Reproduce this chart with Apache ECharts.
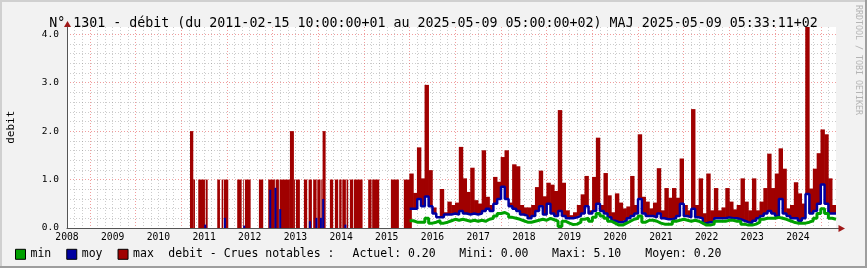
<!DOCTYPE html>
<html><head><meta charset="utf-8">
<script src="https://cdn.jsdelivr.net/npm/echarts/dist/echarts.min.js"></script>
<style>html,body{margin:0;padding:0;background:#f2f2f2}#c{width:867px;height:268px}</style>
</head><body><div id="c"></div>
<script>
const TITLE = 'N° 1301 - débit (du 2011-02-15 10:00:00+01 au 2025-05-09 05:00:00+02) MAJ 2025-05-09 05:33:11+02';
const Y_NAME = 'debit';
const LEGEND_NAMES = ['min', 'moy', 'max'];
const LEGEND_TEXTS = ['debit - Crues notables :', 'Actuel: 0.20', 'Mini: 0.00', 'Maxi: 5.10', 'Moyen: 0.20'];
const X_MIN = 2008, X_MAX = 2024 + 10 / 12;
const Y_MAX = 4.15;

// early period: max as step breakpoints [year, value]
const maxEarly = [
  [2010.692, 2.0], [2010.764, 1.0], [2010.801, 0],
  [2010.873, 1.0], [2011.020, 0], [2011.035, 1.0], [2011.079, 0],
  [2011.289, 1.0], [2011.348, 0],
  [2011.385, 1.0], [2011.420, 0], [2011.435, 1.0], [2011.530, 0],
  [2011.726, 1.0], [2011.823, 0],
  [2011.858, 1.0], [2011.873, 0], [2011.895, 1.0], [2012.020, 0],
  [2012.201, 1.0], [2012.295, 0],
  [2012.405, 1.0], [2012.551, 0], [2012.567, 1.0], [2012.639, 0], [2012.654, 1.0], [2012.880, 2.0], [2012.967, 1.0], [2012.989, 0],
  [2013.011, 1.0], [2013.098, 0],
  [2013.186, 1.0], [2013.258, 0],
  [2013.289, 1.0], [2013.361, 0],
  [2013.389, 1.0], [2013.464, 0], [2013.479, 1.0], [2013.551, 0], [2013.567, 1.0], [2013.595, 2.0], [2013.661, 0],
  [2013.755, 1.0], [2013.827, 0],
  [2013.864, 1.0], [2013.937, 0],
  [2013.958, 1.0], [2014.011, 0], [2014.026, 1.0], [2014.105, 0], [2014.120, 1.0], [2014.155, 0],
  [2014.193, 1.0], [2014.265, 0],
  [2014.280, 1.0], [2014.470, 0],
  [2014.593, 1.0], [2014.667, 0],
  [2014.680, 1.0], [2014.834, 0],
  [2015.090, 1.0], [2015.265, 0],
  [2015.374, 1.0], [2015.549, 0]
];
// early period: isolated moy spikes [year, value]
const moyEarly = [
  [2011.026, 0.07], [2011.457, 0.21], [2011.880, 0.05], [2012.449, 0.79], [2012.563, 0.83],
  [2012.667, 0.39], [2013.317, 0.14], [2013.460, 0.21], [2013.558, 0.21], [2013.608, 0.60], [2014.094, 0.07]
];

// late period: monthly samples starting July 2015
const LATE_START = 2015.5, LATE_STEP = 1 / 12;
const maxLate = [
  1.1, 0.7, 1.64, 1.0, 2.93, 1.17, 0.4, 0.2, 0.78, 0.3, 0.52, 0.45, 0.5, 1.65, 1.0, 0.72,
  1.22, 0.55, 0.48, 1.58, 0.62, 0.45, 1.03, 0.93, 1.44, 1.58, 0.5, 1.29, 1.25, 0.45, 0.4,
  0.4, 0.45, 0.82, 1.16, 0.63, 0.91, 0.87, 0.74, 2.41, 0.91, 0.34, 0.24, 0.3, 0.45, 0.67, 1.05,
  0.34, 1.03, 1.84, 0.45, 1.11, 0.65, 0.3, 0.69, 0.5, 0.38, 0.42, 1.05, 0.45, 1.91, 0.62, 0.52, 0.38,
  0.5, 1.21, 0.34, 0.8, 0.6, 0.8, 0.6, 1.41, 0.45, 0.34, 2.43, 0.45, 1.0, 0.28, 1.1, 0.34, 0.8,
  0.34, 0.4, 0.8, 0.52, 0.36, 0.45, 1.0, 0.52, 0.34, 1.0, 0.34, 0.52, 0.8, 1.51, 0.8, 1.1,
  1.62, 1.2, 0.38, 0.45, 0.92, 0.69, 0.48, 5.1, 0.79, 1.2, 1.52, 2.01, 1.91, 1.0, 0.45
];
const moyLate = [
  0.4, 0.4, 0.6, 0.45, 0.65, 0.45, 0.3, 0.22, 0.22, 0.28, 0.28, 0.3, 0.28, 0.35, 0.3, 0.28,
  0.3, 0.28, 0.3, 0.35, 0.4, 0.35, 0.5, 0.6, 0.85, 0.6, 0.45, 0.4, 0.35, 0.28, 0.25,
  0.2, 0.25, 0.35, 0.45, 0.28, 0.5, 0.3, 0.25, 0.35, 0.25, 0.2, 0.2, 0.22, 0.25, 0.3, 0.45,
  0.3, 0.35, 0.5, 0.35, 0.3, 0.22, 0.15, 0.12, 0.12, 0.15, 0.2, 0.25, 0.3, 0.6, 0.3, 0.25, 0.25,
  0.22, 0.3, 0.2, 0.18, 0.18, 0.2, 0.25, 0.5, 0.25, 0.22, 0.4, 0.22, 0.2, 0.1, 0.12, 0.12, 0.2,
  0.2, 0.2, 0.22, 0.2, 0.2, 0.18, 0.15, 0.12, 0.1, 0.15, 0.2, 0.25, 0.3, 0.35, 0.3, 0.25,
  0.6, 0.3, 0.25, 0.2, 0.2, 0.15, 0.2, 0.7, 0.3, 0.35, 0.5, 0.9, 0.5, 0.3, 0.3
];
const minLate = [
  0.15, 0.12, 0.12, 0.12, 0.2, 0.1, 0.12, 0.15, 0.1, 0.12, 0.15, 0.18, 0.16, 0.18, 0.16, 0.14,
  0.16, 0.14, 0.16, 0.14, 0.18, 0.2, 0.25, 0.3, 0.32, 0.28, 0.22, 0.2, 0.18, 0.15, 0.12,
  0.12, 0.14, 0.16, 0.18, 0.16, 0.2, 0.17, 0.14, 0.03, 0.14, 0.1, 0.07, 0.08, 0.12, 0.18, 0.2,
  0.14, 0.22, 0.3, 0.25, 0.2, 0.14, 0.1, 0.06, 0.06, 0.1, 0.14, 0.18, 0.2, 0.25, 0.12, 0.16, 0.16,
  0.14, 0.1, 0.08, 0.08, 0.08, 0.14, 0.16, 0.18, 0.16, 0.14, 0.16, 0.14, 0.1, 0.06, 0.06, 0.08, 0.14,
  0.14, 0.14, 0.16, 0.16, 0.14, 0.14, 0.08, 0.06, 0.06, 0.08, 0.12, 0.18, 0.2, 0.2, 0.2, 0.22,
  0.2, 0.18, 0.15, 0.12, 0.1, 0.1, 0.1, 0.12, 0.15, 0.2, 0.3, 0.4, 0.3, 0.2, 0.18
];

const RED = '#a00000', BLUE = '#0000a0', GREEN = '#00a000';
const MONO = 'DejaVu Sans Mono';
const MGRID = 'rgba(225,60,60,0.5)', GRID = 'rgba(120,120,120,0.38)';

const lateX = maxLate.map((_, i) => LATE_START + i * LATE_STEP);
const lateEnd = LATE_START + maxLate.length * LATE_STEP;
function pairs(vals) {
  const d = vals.map((v, i) => [lateX[i], v]);
  d.push([lateEnd, vals[vals.length - 1]]);
  return d;
}
// red segments [x0, x1, low, high]
const redEarlySeg = [];
for (let i = 0; i < maxEarly.length - 1; i++) {
  if (maxEarly[i][1] > 0) redEarlySeg.push([maxEarly[i][0], maxEarly[i + 1][0], 0, maxEarly[i][1]]);
}
const redLateSeg = maxLate.map((v, i) => [lateX[i], lateX[i] + LATE_STEP, moyLate[i], v]);

function rectRenderer(padX, padTop) {
  return function (params, api) {
    const p0 = api.coord([api.value(0), api.value(3)]);
    const p1 = api.coord([api.value(1), api.value(2)]);
    const r = echarts.graphic.clipRectByRect({
      x: p0[0] - padX, y: p0[1] - padTop,
      width: p1[0] - p0[0] + 2 * padX, height: p1[1] - p0[1] + padTop
    }, {x: params.coordSys.x, y: params.coordSys.y, width: params.coordSys.width, height: params.coordSys.height});
    return r && {type: 'rect', shape: r, style: {fill: RED}};
  };
}

const chart = echarts.init(document.getElementById('c'), null, {renderer: 'canvas'});
chart.setOption({
  animation: false,
  backgroundColor: '#f2f2f2',
  title: {
    text: TITLE, left: 'center', top: 12,
    textStyle: {fontFamily: MONO, fontSize: 13.3, fontWeight: 'normal', color: '#000', lineHeight: 14}
  },
  legend: {
    data: LEGEND_NAMES, left: 15, top: 247.3, padding: 0, itemGap: 15,
    itemWidth: 10, itemHeight: 10, icon: 'rect', selectedMode: false,
    itemStyle: {borderColor: '#000', borderWidth: 1},
    textStyle: {fontFamily: MONO, fontSize: 11.5, color: '#000', lineHeight: 14}
  },
  grid: {left: 67, right: 31, top: 27, bottom: 40, show: true, backgroundColor: '#fff', borderWidth: 0, containLabel: false, outerBoundsMode: 'none'},
  xAxis: {
    type: 'value', min: X_MIN, max: X_MAX, interval: 1 / 6,
    axisLine: {show: true, lineStyle: {color: '#555', width: 1}},
    axisTick: {show: false},
    axisLabel: {
      margin: 4, fontFamily: MONO, fontSize: 9.7, color: '#000', showMaxLabel: false, hideOverlap: false,
      formatter: v => Math.abs(v - Math.round(v)) < 1e-6 ? String(Math.round(v)) : ''
    },
    splitLine: {show: true, showMaxLine: false, lineStyle: {color: [GRID, GRID, GRID, MGRID, GRID, GRID], type: [1, 2], width: 1}}
  },
  yAxis: {
    type: 'value', min: 0, max: Y_MAX, interval: 0.2,
    axisLine: {show: true, lineStyle: {color: '#555', width: 1}},
    axisTick: {show: false},
    axisLabel: {
      margin: 8, fontFamily: MONO, fontSize: 9.5, color: '#000', showMaxLabel: false,
      formatter: v => Math.abs(v - Math.round(v)) < 1e-6 ? Math.round(v).toFixed(1) : ''
    },
    splitLine: {show: true, showMaxLine: false, lineStyle: {color: [MGRID, GRID, GRID, GRID, GRID], type: [1, 2], width: 1}}
  },
  series: [
    {name: 'max', type: 'custom', data: redEarlySeg, encode: {x: [0, 1], y: [2, 3]}, silent: true,
     itemStyle: {color: RED}, renderItem: rectRenderer(0, 0)},
    {name: 'max', type: 'custom', data: redLateSeg, encode: {x: [0, 1], y: [2, 3]}, silent: true,
     itemStyle: {color: RED}, renderItem: rectRenderer(0.3, 1.2)},
    {name: 'moy', type: 'bar', data: moyEarly, barWidth: 2, silent: true, itemStyle: {color: BLUE}},
    {name: 'moy', type: 'line', step: 'end', data: pairs(moyLate), symbol: 'none', silent: true,
     itemStyle: {color: BLUE}, lineStyle: {color: BLUE, width: 2.5}},
    {name: 'min', type: 'line', step: 'end', data: pairs(minLate), symbol: 'none', silent: true,
     itemStyle: {color: GREEN}, lineStyle: {color: GREEN, width: 3}}
  ],
  graphic: [
    {type: 'rect', shape: {x: 0, y: 0, width: 867, height: 2}, style: {fill: '#d0d0d0'}, silent: true},
    {type: 'rect', shape: {x: 0, y: 0, width: 2, height: 268}, style: {fill: '#d0d0d0'}, silent: true},
    {type: 'rect', shape: {x: 865, y: 0, width: 2, height: 268}, style: {fill: '#9e9e9e'}, silent: true},
    {type: 'rect', shape: {x: 0, y: 266, width: 867, height: 2}, style: {fill: '#9e9e9e'}, silent: true},
    {type: 'line', shape: {x1: 836, y1: 228.5, x2: 840, y2: 228.5}, style: {stroke: '#555', lineWidth: 1}, silent: true},
    {type: 'line', shape: {x1: 67.5, y1: 27, x2: 67.5, y2: 23}, style: {stroke: '#555', lineWidth: 1}, silent: true},
    {type: 'polygon', shape: {points: [[845, 228.5], [838.5, 225], [838.5, 232]]}, style: {fill: '#a01818'}, silent: true},
    {type: 'polygon', shape: {points: [[67.5, 21], [64, 27], [71, 27]]}, style: {fill: '#a01818'}, silent: true},
    {type: 'text', x: 10.8, y: 127.3, rotation: Math.PI / 2, silent: true,
     style: {text: Y_NAME, font: '11px "DejaVu Sans Mono"', fill: '#000', textAlign: 'center', textVerticalAlign: 'middle'}},
    {type: 'text', x: 858.3, y: 5, rotation: -Math.PI / 2, silent: true,
     style: {text: 'RRDTOOL / TOBI OETIKER', font: '8.3px "DejaVu Sans Mono"', fill: '#b4b4b4', textAlign: 'left', textVerticalAlign: 'middle'}},
    {type: 'text', x: 168.3, y: 254.3, silent: true, style: {text: LEGEND_TEXTS[0], font: '11.5px "DejaVu Sans Mono"', fill: '#000', textVerticalAlign: 'middle'}},
    {type: 'text', x: 352.6, y: 254.3, silent: true, style: {text: LEGEND_TEXTS[1], font: '11.5px "DejaVu Sans Mono"', fill: '#000', textVerticalAlign: 'middle'}},
    {type: 'text', x: 459.3, y: 254.3, silent: true, style: {text: LEGEND_TEXTS[2], font: '11.5px "DejaVu Sans Mono"', fill: '#000', textVerticalAlign: 'middle'}},
    {type: 'text', x: 552, y: 254.3, silent: true, style: {text: LEGEND_TEXTS[3], font: '11.5px "DejaVu Sans Mono"', fill: '#000', textVerticalAlign: 'middle'}},
    {type: 'text', x: 645.3, y: 254.3, silent: true, style: {text: LEGEND_TEXTS[4], font: '11.5px "DejaVu Sans Mono"', fill: '#000', textVerticalAlign: 'middle'}}
  ]
});
</script>
</body></html>
